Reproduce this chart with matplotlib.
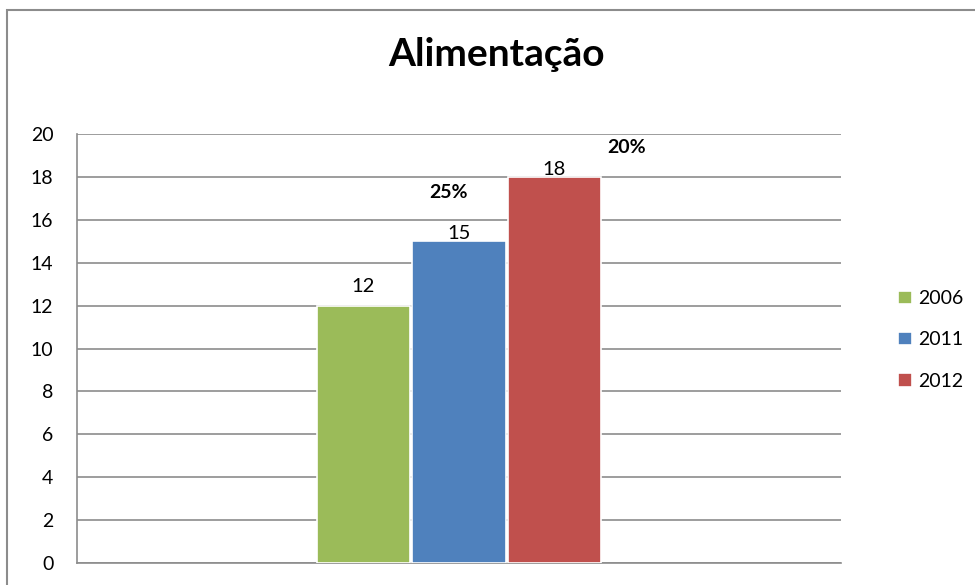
import matplotlib
matplotlib.use("Agg")
import matplotlib.pyplot as plt
from matplotlib.patches import Rectangle

plt.rcParams['font.family'] = ['Lato', 'DejaVu Sans']

title = "Alimentação"
series = ["2006", "2011", "2012"]
values = [12, 15, 18]
colors = ["#9BBB59", "#4F81BD", "#C0504D"]
growth_labels = ["25%", "20%"]
yticks = list(range(0, 21, 2))

fig = plt.figure(figsize=(9.75, 5.85), dpi=100)
# outer frame (left and top visible)
fig.add_artist(Rectangle((7/975, -0.05), 1.2, (585-10)/585 + 0.05, transform=fig.transFigure,
                         fill=False, edgecolor="#8c8c8c", linewidth=1.5))

ax = fig.add_axes([77/975, 1 - 563/585, (841-77)/975, (563-134)/585])
width = 0.123
offsets = [-0.125, 0.0, 0.125]
label_gap = [0.48, -0.03, -0.03]
for s, v, c, o, g in zip(series, values, colors, offsets, label_gap):
    ax.bar(o, v, width=width, color=c, edgecolor="white", linewidth=1.2, label=s, zorder=3)
    ax.text(o, v + g, str(v), ha="center", va="bottom", fontsize=14.5, color="black", zorder=4)

ax.text(-0.014, 17.25, growth_labels[0], ha="center", va="center", fontsize=14, fontweight="bold")
ax.text(0.219, 19.38, growth_labels[1], ha="center", va="center", fontsize=14, fontweight="bold")

ax.set_xlim(-0.5, 0.5)
ax.set_ylim(0, 20)
ax.set_yticks(yticks)
ax.set_xticks([])
ax.tick_params(axis="y", length=0, labelsize=14, pad=17)
ax.grid(axis="y", color="#8c8c8c", linewidth=1.2, zorder=0)
for sp in ["top", "right"]:
    ax.spines[sp].set_visible(False)
ax.spines["left"].set_color("#8c8c8c")
ax.spines["bottom"].set_color("#8c8c8c")
ax.spines["left"].set_linewidth(1.2)
ax.spines["bottom"].set_linewidth(1.2)

fig.text(496/975, 1 - 55/585, title, ha="center", va="center", fontsize=28, fontweight="bold")

leg = ax.legend(loc="center left", bbox_to_anchor=(1.052, 0.52), frameon=False, fontsize=14,
                handlelength=0.7, handleheight=0.7, handletextpad=0.3, labelspacing=1.25)

fig.savefig("out.png", dpi=100)
